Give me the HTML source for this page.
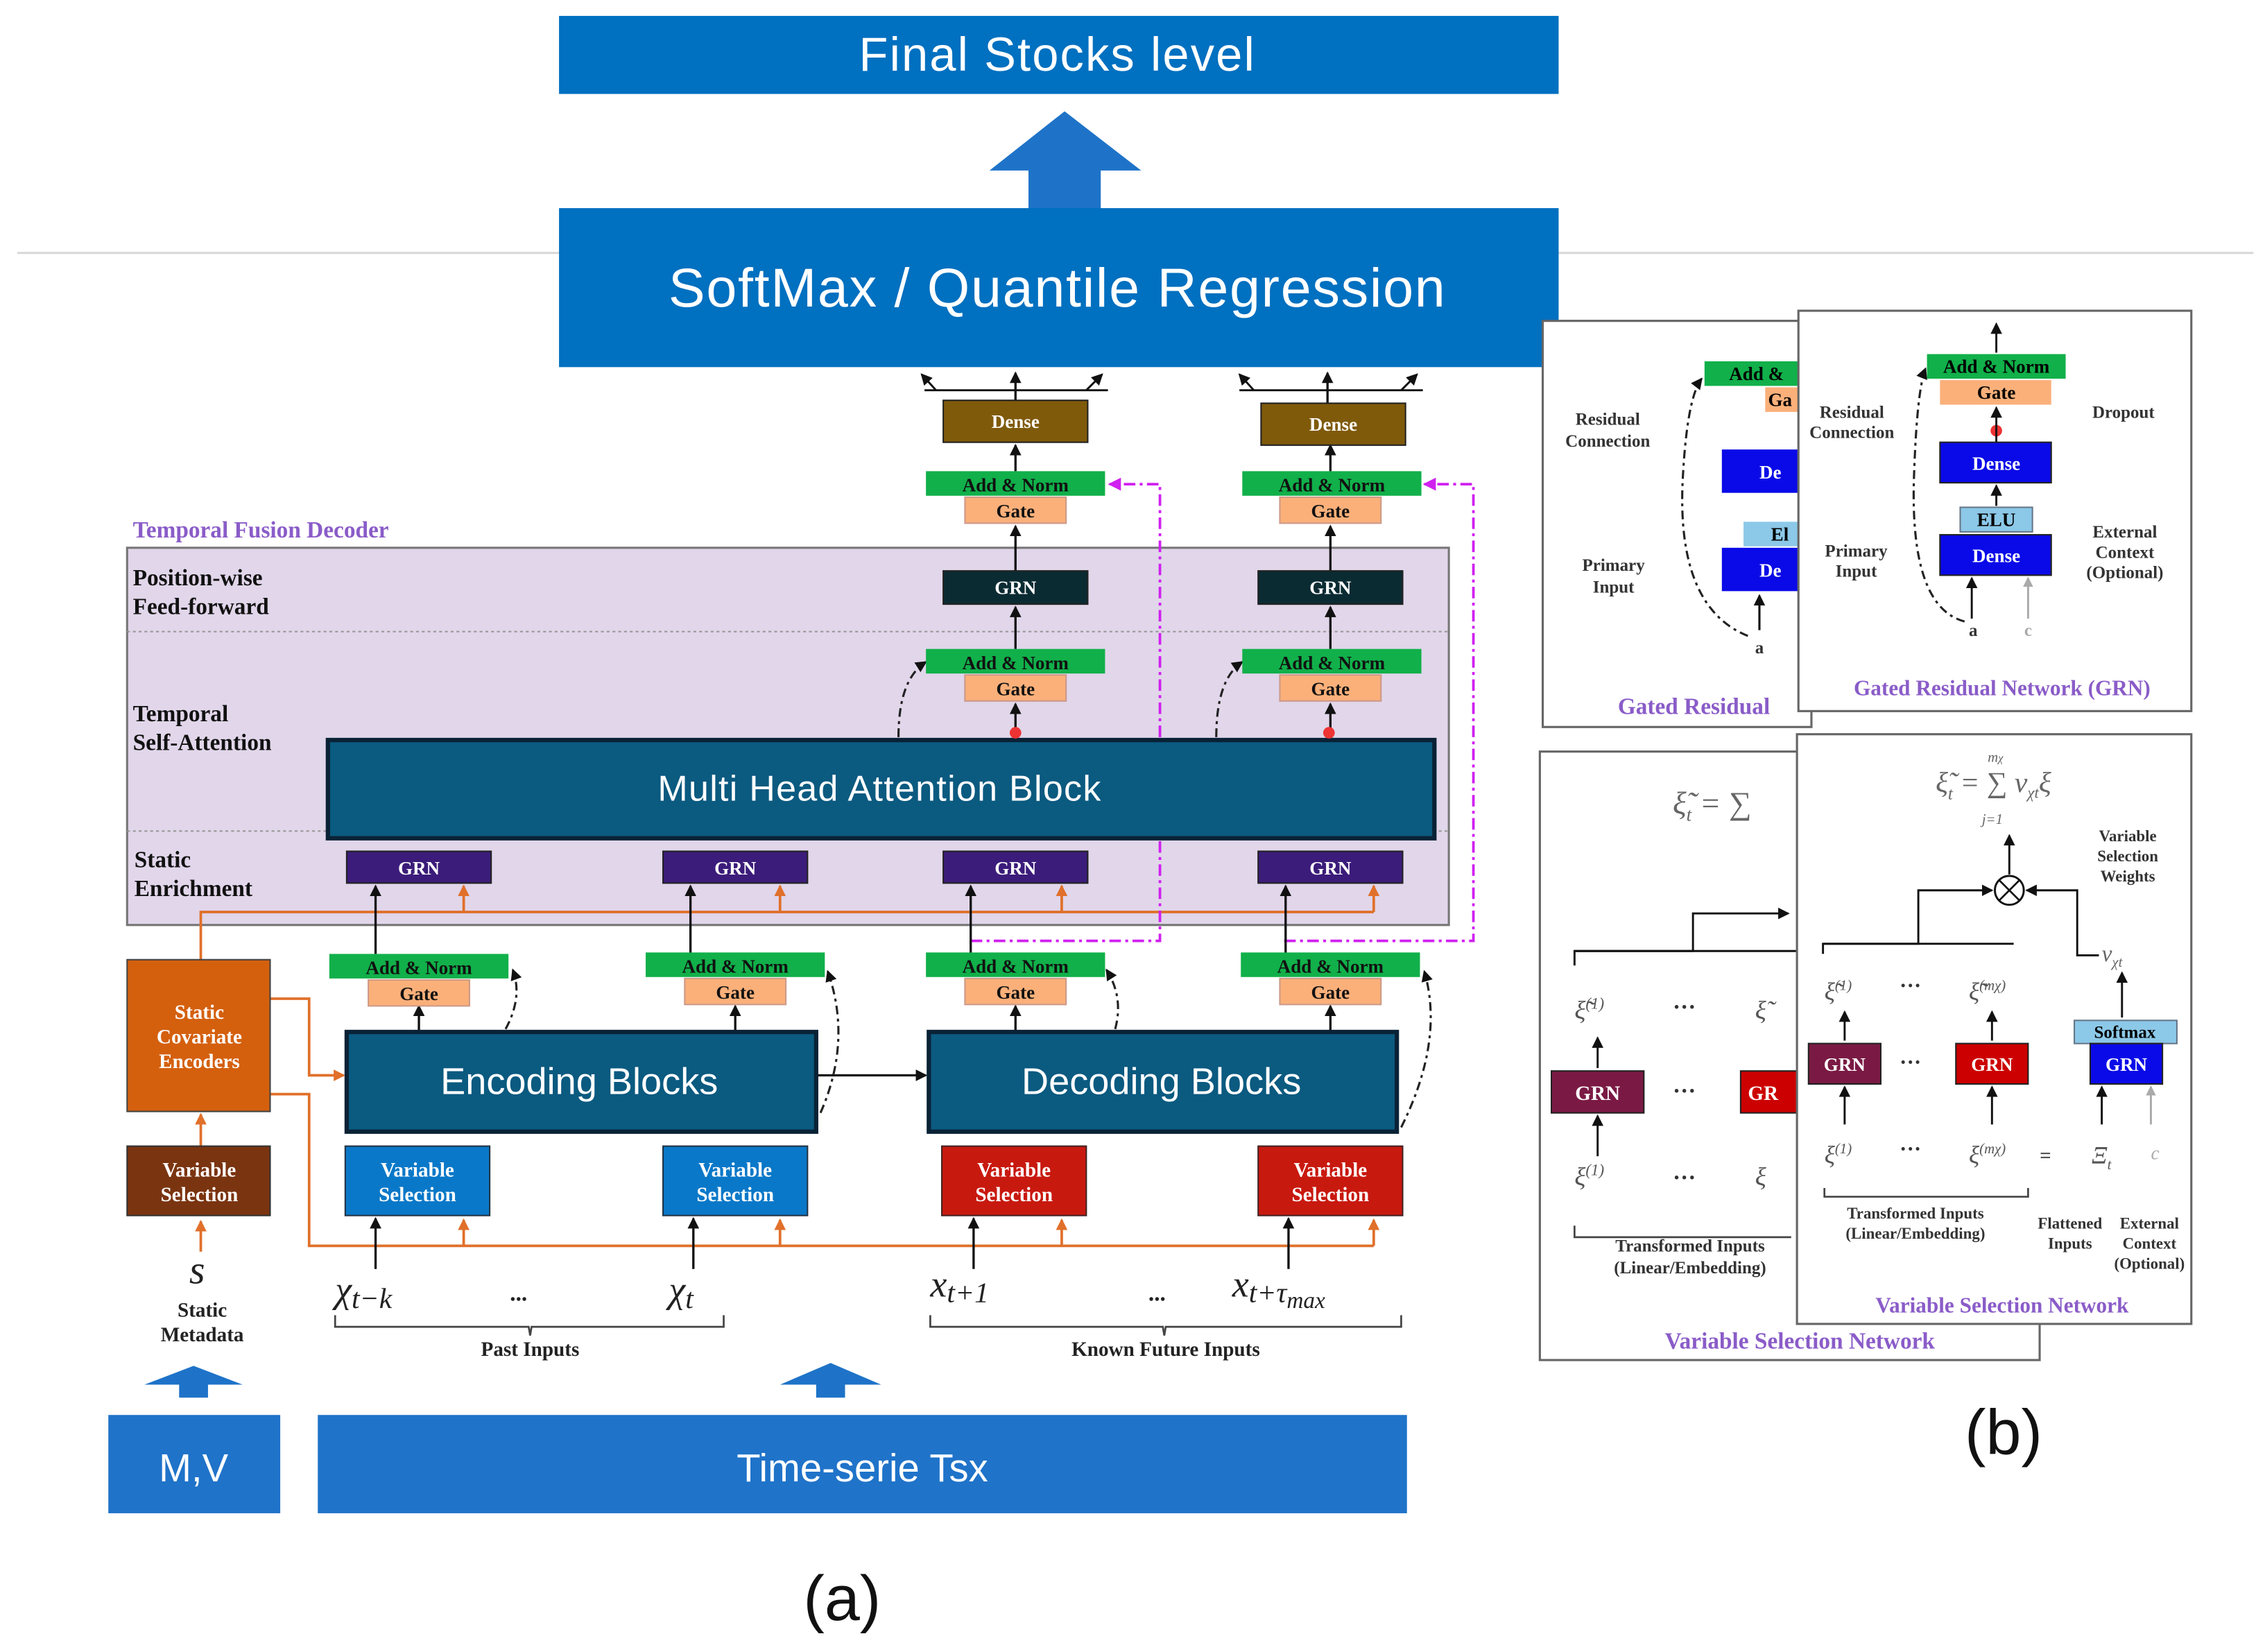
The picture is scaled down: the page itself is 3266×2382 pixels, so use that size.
<!DOCTYPE html>
<html><head><meta charset="utf-8"><style>
html,body{margin:0;padding:0;background:#fff;}
svg{display:block;}
.s{font-family:"Liberation Sans",sans-serif;}
.r{font-family:"Liberation Serif",serif;font-weight:bold;}
.i{font-family:"Liberation Serif",serif;font-style:italic;}
</style></head><body>
<svg width="3266" height="2382" viewBox="0 0 1568 1143" preserveAspectRatio="none" xmlns="http://www.w3.org/2000/svg">
<defs>
<marker id="a" markerWidth="8" markerHeight="8" refX="7" refY="4" orient="auto" markerUnits="userSpaceOnUse"><path d="M0,0 L8,4 L0,8 Z" fill="#111"/></marker>
<marker id="o" markerWidth="8" markerHeight="8" refX="7" refY="4" orient="auto" markerUnits="userSpaceOnUse"><path d="M0,0 L8,4 L0,8 Z" fill="#e0702a"/></marker>
<marker id="m" markerWidth="9" markerHeight="9" refX="8" refY="4.5" orient="auto" markerUnits="userSpaceOnUse"><path d="M0,0 L9,4.5 L0,9 Z" fill="#d020f0"/></marker>
<marker id="g" markerWidth="7" markerHeight="7" refX="6" refY="3.5" orient="auto" markerUnits="userSpaceOnUse"><path d="M0,0 L7,3.5 L0,7 Z" fill="#aaa"/></marker>
</defs>
<rect width="1568" height="1143" fill="#fff"/>
<!-- top -->
<rect x="387" y="11" width="692" height="54" fill="#0070c0"/>
<text x="732" y="49" text-anchor="middle" class="s" font-size="33" letter-spacing="1" fill="#fff">Final Stocks level</text>
<path d="M712,145 L712,118 L685,118 L737,77 L790,118 L762,118 L762,145 Z" fill="#1e73c8"/>
<line x1="12" y1="175" x2="1560" y2="175" stroke="#d8d8d8" stroke-width="1.5"/>
<rect x="387" y="144" width="692" height="110" fill="#0070c0"/>
<text x="732" y="212" text-anchor="middle" class="s" font-size="38" letter-spacing="0.8" fill="#fff">SoftMax / Quantile Regression</text>

<!-- decoder region -->
<text x="92" y="372" class="r" font-size="16" fill="#8a5cc8">Temporal Fusion Decoder</text>
<rect x="88" y="379" width="915" height="261" fill="#e1d6ea" stroke="#777" stroke-width="1.5"/>
<line x1="88" y1="437" x2="1003" y2="437" stroke="#999" stroke-dasharray="2,2"/>
<line x1="88" y1="575" x2="1003" y2="575" stroke="#999" stroke-dasharray="2,2"/>
<g class="r" font-size="16" fill="#111">
<text x="92" y="405">Position-wise</text><text x="92" y="425">Feed-forward</text>
<text x="92" y="499">Temporal</text><text x="92" y="519">Self-Attention</text>
<text x="93" y="600">Static</text><text x="93" y="620">Enrichment</text>
</g>

<!-- orange lines -->
<g stroke="#e0702a" stroke-width="1.8" fill="none">
<path d="M139,664 L139,631 L951,631"/>
<path d="M187,691 L214,691 L214,744 L238,744" marker-end="url(#o)"/>
<path d="M187,757 L214,757 L214,862 L951,862"/>
<path d="M139,793 L139,771" marker-end="url(#o)"/>
<path d="M139,866 L139,845" marker-end="url(#o)"/>
</g>
<g stroke="#e0702a" stroke-width="1.8" marker-end="url(#o)">
<line x1="321" y1="631" x2="321" y2="613"/><line x1="540" y1="631" x2="540" y2="613"/><line x1="735" y1="631" x2="735" y2="613"/><line x1="951" y1="631" x2="951" y2="613"/>
<line x1="321" y1="862" x2="321" y2="844"/><line x1="540" y1="862" x2="540" y2="844"/><line x1="735" y1="862" x2="735" y2="844"/><line x1="951" y1="862" x2="951" y2="844"/>
</g>

<!-- magenta dash-dot -->
<g stroke="#d020f0" stroke-width="1.8" fill="none" stroke-dasharray="8,3,2,3">
<path d="M672,651 L803,651 L803,335 L768,335" marker-end="url(#m)"/>
<path d="M889,651 L1020,651 L1020,335 L986,335" marker-end="url(#m)"/>
</g>

<!-- black arrows -->
<g stroke="#111" stroke-width="1.6" marker-end="url(#a)">
<line x1="260" y1="878" x2="260" y2="843"/><line x1="480" y1="878" x2="480" y2="843"/><line x1="674" y1="878" x2="674" y2="843"/><line x1="892" y1="878" x2="892" y2="843"/>
<line x1="260" y1="660" x2="260" y2="613"/><line x1="478" y1="660" x2="478" y2="613"/><line x1="672" y1="660" x2="672" y2="613"/><line x1="890" y1="660" x2="890" y2="613"/>
<line x1="290" y1="714" x2="290" y2="696"/><line x1="509" y1="714" x2="509" y2="696"/><line x1="703" y1="714" x2="703" y2="696"/><line x1="921" y1="714" x2="921" y2="696"/>
<line x1="703" y1="505" x2="703" y2="487"/><line x1="921" y1="505" x2="921" y2="487"/>
<line x1="703" y1="449" x2="703" y2="420"/><line x1="921" y1="449" x2="921" y2="420"/>
<line x1="703" y1="395" x2="703" y2="364"/><line x1="921" y1="395" x2="921" y2="364"/>
<line x1="703" y1="326" x2="703" y2="308"/><line x1="921" y1="326" x2="921" y2="308"/>
<line x1="703" y1="277" x2="703" y2="258"/><line x1="919" y1="279" x2="919" y2="258"/>
<line x1="566" y1="744" x2="641" y2="744"/>
</g>
<g stroke="#111" stroke-width="1.4" fill="none">
<path d="M640,270 L767,270"/><path d="M858,270 L985,270"/>
</g>
<g stroke="#111" stroke-width="1.4" marker-end="url(#a)">
<line x1="648" y1="270" x2="638" y2="259"/><line x1="752" y1="270" x2="763" y2="259"/>
<line x1="868" y1="270" x2="858" y2="259"/><line x1="970" y1="270" x2="981" y2="259"/>
</g>
<g stroke="#222" stroke-width="1.5" fill="none" stroke-dasharray="6,3,2,3">
<path d="M622,510 Q622,470 641,458" marker-end="url(#a)"/>
<path d="M842,510 Q842,470 860,458" marker-end="url(#a)"/>
<path d="M350,712 Q362,690 355,671" marker-end="url(#a)"/>
<path d="M568,770 Q590,720 573,672" marker-end="url(#a)"/>
<path d="M772,712 Q778,690 766,671" marker-end="url(#a)"/>
<path d="M970,780 Q1000,720 986,672" marker-end="url(#a)"/>
</g>

<!-- MHA -->
<rect x="227" y="512" width="766" height="68" fill="#0b5a80" stroke="#0a2236" stroke-width="3"/>
<text x="609" y="554" text-anchor="middle" class="s" font-size="25" letter-spacing="0.6" fill="#fff">Multi Head Attention Block</text>
<circle cx="703" cy="507" r="4" fill="#e33"/><circle cx="920" cy="507" r="4" fill="#e33"/>

<g class="r" font-size="13" fill="#fff" text-anchor="middle">
<rect x="240" y="589" width="100" height="22" fill="#3b1c7a" stroke="#222"/><text x="290" y="605">GRN</text>
<rect x="459" y="589" width="100" height="22" fill="#3b1c7a" stroke="#222"/><text x="509" y="605">GRN</text>
<rect x="653" y="589" width="100" height="22" fill="#3b1c7a" stroke="#222"/><text x="703" y="605">GRN</text>
<rect x="871" y="589" width="100" height="22" fill="#3b1c7a" stroke="#222"/><text x="921" y="605">GRN</text>
<rect x="653" y="395" width="100" height="23" fill="#0b2b33" stroke="#222"/><text x="703" y="411">GRN</text>
<rect x="871" y="395" width="100" height="23" fill="#0b2b33" stroke="#222"/><text x="921" y="411">GRN</text>
<rect x="653" y="277" width="100" height="29" fill="#7f5a0b" stroke="#222"/><text x="703" y="296">Dense</text>
<rect x="873" y="279" width="100" height="29" fill="#7f5a0b" stroke="#222"/><text x="923" y="298">Dense</text>
</g>

<g class="r" font-size="13" text-anchor="middle" fill="#111">
<rect x="641" y="326" width="124" height="17" fill="#11b04a"/><text x="703" y="340">Add &amp; Norm</text>
<rect x="668" y="344" width="70" height="18" fill="#fbb07a" stroke="#c98"/><text x="703" y="358">Gate</text>
<rect x="860" y="326" width="124" height="17" fill="#11b04a"/><text x="922" y="340">Add &amp; Norm</text>
<rect x="886" y="344" width="70" height="18" fill="#fbb07a" stroke="#c98"/><text x="921" y="358">Gate</text>
<rect x="641" y="449" width="124" height="17" fill="#11b04a"/><text x="703" y="463">Add &amp; Norm</text>
<rect x="668" y="467" width="70" height="18" fill="#fbb07a" stroke="#c98"/><text x="703" y="481">Gate</text>
<rect x="860" y="449" width="124" height="17" fill="#11b04a"/><text x="922" y="463">Add &amp; Norm</text>
<rect x="886" y="467" width="70" height="18" fill="#fbb07a" stroke="#c98"/><text x="921" y="481">Gate</text>
<rect x="228" y="660" width="124" height="17" fill="#11b04a"/><text x="290" y="674">Add &amp; Norm</text>
<rect x="255" y="678" width="70" height="18" fill="#fbb07a" stroke="#c98"/><text x="290" y="692">Gate</text>
<rect x="447" y="659" width="124" height="17" fill="#11b04a"/><text x="509" y="673">Add &amp; Norm</text>
<rect x="474" y="677" width="70" height="18" fill="#fbb07a" stroke="#c98"/><text x="509" y="691">Gate</text>
<rect x="641" y="659" width="124" height="17" fill="#11b04a"/><text x="703" y="673">Add &amp; Norm</text>
<rect x="668" y="677" width="70" height="18" fill="#fbb07a" stroke="#c98"/><text x="703" y="691">Gate</text>
<rect x="859" y="659" width="124" height="17" fill="#11b04a"/><text x="921" y="673">Add &amp; Norm</text>
<rect x="886" y="677" width="70" height="18" fill="#fbb07a" stroke="#c98"/><text x="921" y="691">Gate</text>
</g>

<rect x="240" y="714" width="325" height="69" fill="#0b5a80" stroke="#0a2236" stroke-width="3"/>
<text x="401" y="757" text-anchor="middle" class="s" font-size="26" fill="#fff">Encoding Blocks</text>
<rect x="643" y="714" width="324" height="69" fill="#0b5a80" stroke="#0a2236" stroke-width="3"/>
<text x="804" y="757" text-anchor="middle" class="s" font-size="26" fill="#fff">Decoding Blocks</text>

<g class="r" font-size="14" text-anchor="middle" fill="#fff" font-weight="normal">
<rect x="239" y="793" width="100" height="48" fill="#0a78c8" stroke="#234"/><text x="289" y="814">Variable</text><text x="289" y="831">Selection</text>
<rect x="459" y="793" width="100" height="48" fill="#0a78c8" stroke="#234"/><text x="509" y="814">Variable</text><text x="509" y="831">Selection</text>
<rect x="652" y="793" width="100" height="48" fill="#c8190f" stroke="#422"/><text x="702" y="814">Variable</text><text x="702" y="831">Selection</text>
<rect x="871" y="793" width="100" height="48" fill="#c8190f" stroke="#422"/><text x="921" y="814">Variable</text><text x="921" y="831">Selection</text>
<rect x="88" y="793" width="99" height="48" fill="#7a3410" stroke="#333"/><text x="138" y="814">Variable</text><text x="138" y="831">Selection</text>
<rect x="88" y="664" width="99" height="105" fill="#d4600e" stroke="#444"/><text x="138" y="705">Static</text><text x="138" y="722">Covariate</text><text x="138" y="739">Encoders</text>
</g>

<g class="i" font-size="26" fill="#222">
<text x="232" y="901">χ<tspan font-size="20" dy="4">t−k</tspan></text>
<text x="463" y="901">χ<tspan font-size="20" dy="4">t</tspan></text>
<text x="644" y="897">x<tspan font-size="20" dy="4">t+1</tspan></text>
<text x="853" y="897">x<tspan font-size="20" dy="4">t+τ</tspan><tspan font-size="16" dy="4">max</tspan></text>
<text x="131" y="888" font-size="28">s</text>
</g>
<g class="r" font-size="16" fill="#222"><text x="353" y="900">...</text><text x="795" y="900">...</text></g>
<g stroke="#444" stroke-width="1.3" fill="none">
<path d="M232,910 L232,918 L366,918 L367,924 L368,918 L501,918 L501,910"/>
<path d="M644,910 L644,918 L805,918 L806,924 L807,918 L970,918 L970,910"/>
</g>
<g class="r" font-size="14" fill="#222" text-anchor="middle">
<text x="367" y="938">Past Inputs</text><text x="807" y="938">Known Future Inputs</text>
<text x="140" y="911">Static</text><text x="140" y="928">Metadata</text>
</g>

<path d="M124,967 L124,958 L100,958 L134,945 L168,958 L144,958 L144,967 Z" fill="#1e73c8"/>
<path d="M565,967 L565,958 L540,958 L575,943 L610,958 L585,958 L585,967 Z" fill="#1e73c8"/>
<rect x="75" y="979" width="119" height="68" fill="#1f73c9"/>
<text x="134" y="1025" text-anchor="middle" class="s" font-size="27" fill="#fff">M,V</text>
<rect x="220" y="979" width="754" height="68" fill="#1f73c9"/>
<text x="597" y="1025" text-anchor="middle" class="s" font-size="27" fill="#fff">Time-serie Tsx</text>
<text x="583" y="1121" text-anchor="middle" class="s" font-size="44" fill="#111">(a)</text>
<text x="1387" y="1006" text-anchor="middle" class="s" font-size="44" fill="#111">(b)</text>

<!-- (b) panels back upper -->
<rect x="1068" y="222" width="186" height="281" fill="#fff" stroke="#666" stroke-width="1.5"/>
<rect x="1180" y="250" width="70" height="17" fill="#11b04a"/><text x="1197" y="263" class="r" font-size="13">Add &amp;</text>
<rect x="1222" y="268" width="28" height="17" fill="#fbb07a"/><text x="1224" y="281" class="r" font-size="13">Ga</text>
<rect x="1192" y="311" width="58" height="30" fill="#0a0ae8"/><text x="1218" y="331" class="r" font-size="13" fill="#fff">De</text>
<rect x="1207" y="361" width="43" height="17" fill="#8cc8e8"/><text x="1226" y="374" class="r" font-size="13">El</text>
<rect x="1192" y="379" width="58" height="30" fill="#0a0ae8"/><text x="1218" y="399" class="r" font-size="13" fill="#fff">De</text>
<path d="M1210,440 Q1160,420 1165,330 Q1168,275 1178,262" fill="none" stroke="#222" stroke-width="1.5" stroke-dasharray="6,3,2,3" marker-end="url(#a)"/>
<line x1="1218" y1="436" x2="1218" y2="412" stroke="#111" stroke-width="1.5" marker-end="url(#a)"/>
<g class="r" font-size="12" fill="#333" text-anchor="middle">
<text x="1113" y="294">Residual</text><text x="1113" y="309">Connection</text>
<text x="1117" y="395">Primary</text><text x="1117" y="410">Input</text>
<text x="1218" y="452">a</text>
</g>
<text x="1120" y="494" class="r" font-size="16" fill="#8a5cc8">Gated Residual</text>

<rect x="1245" y="215" width="272" height="277" fill="#fff" stroke="#666" stroke-width="1.5"/>
<rect x="1334" y="245" width="96" height="17" fill="#11b04a"/><text x="1382" y="258" text-anchor="middle" class="r" font-size="13">Add &amp; Norm</text>
<rect x="1343" y="263" width="77" height="17" fill="#fbb07a"/><text x="1382" y="276" text-anchor="middle" class="r" font-size="13">Gate</text>
<circle cx="1382" cy="298" r="4" fill="#e33"/>
<rect x="1343" y="306" width="77" height="28" fill="#0a0ae8" stroke="#222"/><text x="1382" y="325" text-anchor="middle" class="r" font-size="13" fill="#fff">Dense</text>
<rect x="1357" y="351" width="50" height="17" fill="#8cc8e8" stroke="#678"/><text x="1382" y="364" text-anchor="middle" class="r" font-size="13">ELU</text>
<rect x="1343" y="370" width="77" height="28" fill="#0a0ae8" stroke="#222"/><text x="1382" y="389" text-anchor="middle" class="r" font-size="13" fill="#fff">Dense</text>
<g stroke="#111" stroke-width="1.4" marker-end="url(#a)">
<line x1="1382" y1="244" x2="1382" y2="224"/><line x1="1382" y1="306" x2="1382" y2="282"/><line x1="1382" y1="350" x2="1382" y2="336"/><line x1="1365" y1="428" x2="1365" y2="400"/>
</g>
<line x1="1404" y1="428" x2="1404" y2="400" stroke="#aaa" stroke-width="1.4" marker-end="url(#g)"/>
<path d="M1360,430 Q1322,420 1325,330 Q1327,270 1333,255" fill="none" stroke="#222" stroke-width="1.5" stroke-dasharray="6,3,2,3" marker-end="url(#a)"/>
<g class="r" font-size="12" fill="#333" text-anchor="middle">
<text x="1282" y="289">Residual</text><text x="1282" y="303">Connection</text>
<text x="1470" y="289">Dropout</text>
<text x="1285" y="385">Primary</text><text x="1285" y="399">Input</text>
<text x="1471" y="372">External</text><text x="1471" y="386">Context</text><text x="1471" y="400">(Optional)</text>
<text x="1366" y="440">a</text><text x="1404" y="440" fill="#aaa">c</text>
</g>
<text x="1386" y="481" text-anchor="middle" class="r" font-size="15" fill="#8a5cc8">Gated Residual Network (GRN)</text>

<rect x="1066" y="520" width="346" height="421" fill="#fff" stroke="#666" stroke-width="1.5"/>
<text x="1158" y="563" class="i" font-size="22" fill="#666">ξ̃<tspan font-size="13" dy="5">t</tspan><tspan dy="-5"> = ∑</tspan></text>
<path d="M1090,668 L1090,658 L1172,658 L1172,632 L1238,632" fill="none" stroke="#111" stroke-width="1.4" marker-end="url(#a)"/>
<line x1="1090" y1="658" x2="1245" y2="658" stroke="#111" stroke-width="1.4"/>
<rect x="1074" y="741" width="64" height="29" fill="#7a1a44" stroke="#222"/><text x="1106" y="761" text-anchor="middle" class="r" font-size="14" fill="#fff">GRN</text>
<rect x="1205" y="741" width="40" height="29" fill="#c00" stroke="#222"/><text x="1210" y="761" class="r" font-size="14" fill="#fff">GR</text>
<g class="i" font-size="18" fill="#555"><text x="1090" y="705">ξ̃<tspan font-size="11" dy="-7">(1)</tspan></text><text x="1090" y="820">ξ<tspan font-size="11" dy="-7">(1)</tspan></text><text x="1215" y="705">ξ̃</text><text x="1215" y="820">ξ</text></g>
<g class="r" font-size="16" fill="#333"><text x="1158" y="702">···</text><text x="1158" y="760">···</text><text x="1158" y="820">···</text></g>
<g stroke="#111" stroke-width="1.4" marker-end="url(#a)"><line x1="1106" y1="739" x2="1106" y2="718"/><line x1="1106" y1="800" x2="1106" y2="772"/></g>
<path d="M1090,848 L1090,856 L1240,856" fill="none" stroke="#444" stroke-width="1.3"/>
<g class="r" font-size="12" fill="#333" text-anchor="middle"><text x="1170" y="866">Transformed Inputs</text><text x="1170" y="881">(Linear/Embedding)</text></g>
<text x="1246" y="933" text-anchor="middle" class="r" font-size="16" fill="#8a5cc8">Variable Selection Network</text>

<rect x="1244" y="508" width="273" height="408" fill="#fff" stroke="#666" stroke-width="1.5"/>
<text x="1340" y="548" class="i" font-size="20" fill="#666">ξ̃<tspan font-size="12" dy="5">t</tspan><tspan dy="-5"> = ∑ v</tspan><tspan font-size="11" dy="4">χt</tspan><tspan dy="-4">ξ</tspan></text>
<text x="1376" y="527" class="i" font-size="10" fill="#666">m<tspan font-size="8">χ</tspan></text>
<text x="1372" y="570" class="i" font-size="10" fill="#666">j=1</text>
<line x1="1391" y1="605" x2="1391" y2="578" stroke="#111" stroke-width="1.4" marker-end="url(#a)"/>
<circle cx="1391" cy="616" r="10" fill="#fff" stroke="#111" stroke-width="1.4"/>
<path d="M1384,609 L1398,623 M1398,609 L1384,623" stroke="#111" stroke-width="1.3"/>
<path d="M1262,660 L1262,653 L1328,653 L1328,616 L1379,616" fill="none" stroke="#111" stroke-width="1.4" marker-end="url(#a)"/>
<line x1="1262" y1="653" x2="1394" y2="653" stroke="#111" stroke-width="1.4"/>
<path d="M1453,661 L1438,661 L1438,616 L1403,616" fill="none" stroke="#111" stroke-width="1.4" marker-end="url(#a)"/>
<text x="1455" y="665" class="i" font-size="16" fill="#666">v<tspan font-size="10" dy="4">χt</tspan></text>
<line x1="1469" y1="704" x2="1469" y2="673" stroke="#111" stroke-width="1.4" marker-end="url(#a)"/>
<g class="r" font-size="11" fill="#333" text-anchor="middle"><text x="1473" y="582">Variable</text><text x="1473" y="596">Selection</text><text x="1473" y="610">Weights</text></g>
<rect x="1252" y="722" width="50" height="28" fill="#7a1a44" stroke="#222"/><text x="1277" y="741" text-anchor="middle" class="r" font-size="13" fill="#fff">GRN</text>
<rect x="1354" y="722" width="50" height="28" fill="#c00" stroke="#222"/><text x="1379" y="741" text-anchor="middle" class="r" font-size="13" fill="#fff">GRN</text>
<rect x="1436" y="706" width="71" height="16" fill="#8cc8e8" stroke="#678"/><text x="1471" y="718" text-anchor="middle" class="r" font-size="12">Softmax</text>
<rect x="1447" y="722" width="50" height="28" fill="#0a0ae8" stroke="#222"/><text x="1472" y="741" text-anchor="middle" class="r" font-size="13" fill="#fff">GRN</text>
<g class="i" font-size="17" fill="#555">
<text x="1263" y="692">ξ̃<tspan font-size="10" dy="-7">(1)</tspan></text><text x="1363" y="692">ξ̃<tspan font-size="10" dy="-7">(mχ)</tspan></text>
<text x="1263" y="805">ξ<tspan font-size="10" dy="-7">(1)</tspan></text><text x="1363" y="805">ξ<tspan font-size="10" dy="-7">(mχ)</tspan></text>
<text x="1448" y="805">Ξ<tspan font-size="10" dy="4">t</tspan></text>
</g>
<text x="1489" y="802" class="i" font-size="13" fill="#aaa">c</text>
<text x="1412" y="804" class="r" font-size="14" fill="#555">=</text>
<g class="r" font-size="15" fill="#333"><text x="1315" y="687">···</text><text x="1315" y="740">···</text><text x="1315" y="800">···</text></g>
<g stroke="#111" stroke-width="1.4" marker-end="url(#a)">
<line x1="1277" y1="720" x2="1277" y2="700"/><line x1="1379" y1="720" x2="1379" y2="700"/>
<line x1="1277" y1="778" x2="1277" y2="752"/><line x1="1379" y1="778" x2="1379" y2="752"/><line x1="1455" y1="778" x2="1455" y2="752"/>
</g>
<line x1="1489" y1="778" x2="1489" y2="752" stroke="#aaa" stroke-width="1.4" marker-end="url(#g)"/>
<path d="M1263,822 L1263,828 L1404,828 L1404,822" fill="none" stroke="#444" stroke-width="1.3"/>
<g class="r" font-size="11" fill="#333" text-anchor="middle">
<text x="1326" y="843">Transformed Inputs</text><text x="1326" y="857">(Linear/Embedding)</text>
<text x="1433" y="850">Flattened</text><text x="1433" y="864">Inputs</text>
<text x="1488" y="850">External</text><text x="1488" y="864">Context</text><text x="1488" y="878">(Optional)</text>
</g>
<text x="1386" y="908" text-anchor="middle" class="r" font-size="15" fill="#8a5cc8">Variable Selection Network</text>
</svg>
</body></html>
